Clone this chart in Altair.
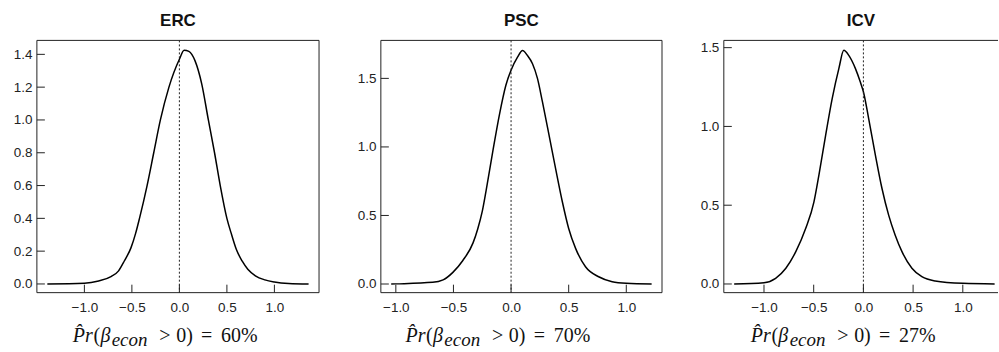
import altair as alt
import pandas as pd

titles = ["ERC", "PSC", "ICV"]
probs = ["60%", "70%", "27%"]

erc_x = [-1.39, -1.0, -0.85, -0.72, -0.64, -0.58, -0.51, -0.46, -0.42, -0.34, -0.27, -0.20, -0.11, 0.0, 0.05, 0.10, 0.165, 0.235, 0.305, 0.37, 0.43, 0.50, 0.55, 0.60, 0.66, 0.72, 0.80, 0.90, 1.0, 1.15, 1.36]
erc_d = [0.0, 0.004, 0.018, 0.045, 0.08, 0.14, 0.22, 0.31, 0.40, 0.60, 0.80, 1.00, 1.20, 1.37, 1.425, 1.418, 1.36, 1.22, 1.00, 0.80, 0.60, 0.40, 0.30, 0.21, 0.14, 0.09, 0.05, 0.025, 0.012, 0.003, 0.0]

psc_x = [-1.04, -1.0, -0.68, -0.59, -0.505, -0.42, -0.33, -0.29, -0.25, -0.217, -0.16, -0.10, -0.045, 0.0, 0.056, 0.10, 0.142, 0.186, 0.229, 0.272, 0.33, 0.387, 0.445, 0.50, 0.56, 0.646, 0.76, 0.877, 1.0, 1.22]
psc_d = [0.0, 0.001, 0.012, 0.03, 0.085, 0.17, 0.30, 0.40, 0.53, 0.68, 0.96, 1.24, 1.45, 1.56, 1.655, 1.704, 1.667, 1.607, 1.50, 1.33, 1.085, 0.84, 0.60, 0.405, 0.26, 0.126, 0.053, 0.017, 0.005, 0.0]

icv_x = [-1.30, -1.0, -0.883, -0.78, -0.68, -0.58, -0.498, -0.448, -0.38, -0.314, -0.247, -0.197, -0.147, -0.08, -0.03, 0.0, 0.053, 0.12, 0.187, 0.254, 0.32, 0.388, 0.488, 0.588, 0.722, 1.0, 1.32]
icv_d = [0.0, 0.008, 0.036, 0.10, 0.205, 0.353, 0.52, 0.69, 0.944, 1.177, 1.367, 1.483, 1.451, 1.367, 1.28, 1.22, 1.05, 0.82, 0.606, 0.437, 0.31, 0.205, 0.10, 0.046, 0.019, 0.004, 0.0]

curves = [(erc_x, erc_d), (psc_x, psc_d), (icv_x, icv_d)]

x_ticks = [-1.0, -0.5, 0.0, 0.5, 1.0]
y_ticks = [[0.0, 0.2, 0.4, 0.6, 0.8, 1.0, 1.2, 1.4], [0.0, 0.5, 1.0, 1.5], [0.0, 0.5, 1.0, 1.5]]
x_domains = [[-1.50, 1.47], [-1.13, 1.31], [-1.404, 1.354]]
y_domains = [[-0.053, 1.485], [-0.063, 1.777], [-0.055, 1.546]]

# layout constants
widths = [283, 282, 275]
H = 253
extents = [37, 41, 41]
right_frame = [True, True, False]
formula_start = [36, 24.7, 27]

INK = "#222222"
SANS = "Liberation Sans"
SERIF = "Liberation Serif"
one = pd.DataFrame({"a": [0]})


def panel(i):
    W = widths[i]
    xs, ds = curves[i]
    xsc = alt.Scale(domain=x_domains[i], nice=False, zero=False)
    ysc = alt.Scale(domain=y_domains[i], nice=False, zero=False)
    xa = alt.Axis(values=x_ticks, format=".1f", domain=False, ticks=False, tickSize=0, title=None,
                  grid=False, labelFont=SANS, labelFontSize=13.5, labelColor=INK, labelPadding=8)
    ya = alt.Axis(values=y_ticks[i], format=".1f", domain=False, ticks=False, tickSize=0, title=None,
                  grid=False, labelFont=SANS, labelFontSize=13.5, labelColor=INK, labelPadding=5,
                  minExtent=extents[i], maxExtent=extents[i])
    df = pd.DataFrame({"x": xs, "d": ds})

    line = alt.Chart(df).mark_line(color="black", strokeWidth=1.5, interpolate="monotone").encode(
        x=alt.X("x:Q", scale=xsc, axis=xa, title=None),
        y=alt.Y("d:Q", scale=ysc, axis=ya, title=None),
    )

    xt = alt.Chart(pd.DataFrame({"x": x_ticks})).mark_rule(color=INK, strokeWidth=1).encode(
        x=alt.X("x:Q", scale=xsc, axis=xa, title=None), y=alt.value(H), y2=alt.value(H - 8))
    yt = alt.Chart(pd.DataFrame({"d": y_ticks[i]})).mark_rule(color=INK, strokeWidth=1).encode(
        y=alt.Y("d:Q", scale=ysc, axis=ya, title=None), x=alt.value(0), x2=alt.value(8))
    zero = alt.Chart(pd.DataFrame({"x": [0.0]})).mark_rule(color=INK, strokeWidth=1, strokeDash=[2, 2]).encode(
        x=alt.X("x:Q", scale=xsc, axis=xa, title=None))

    frame = [
        alt.Chart(one).mark_rule(color=INK, strokeWidth=1).encode(x=alt.value(0)),
        alt.Chart(one).mark_rule(color=INK, strokeWidth=1).encode(y=alt.value(0)),
        alt.Chart(one).mark_rule(color=INK, strokeWidth=1).encode(y=alt.value(H)),
    ]
    if right_frame[i]:
        frame.append(alt.Chart(one).mark_rule(color=INK, strokeWidth=1).encode(x=alt.value(W)))

    x0 = formula_start[i]
    base_y = 303
    pieces = [
        ("P\u0302r", 0, 20, "italic", base_y),
        ("(", 20.7, 20, "normal", base_y),
        ("\u03b2", 27.7, 20, "italic", base_y),
        ("econ", 39, 19, "italic", base_y + 4),
        (">", 86.7, 20, "normal", base_y),
        ("0)", 103.7, 20, "normal", base_y),
        ("=", 128.7, 20, "normal", base_y),
        (probs[i], 148.7, 20, "normal", base_y),
    ]
    texts = []
    for s, off, fs, st, yy in pieces:
        texts.append(
            alt.Chart(pd.DataFrame({"s": [s]})).mark_text(
                align="left", baseline="alphabetic", font=SERIF, fontSize=fs, fontStyle=st, color="#111111"
            ).encode(text="s:N", x=alt.value(x0 + off), y=alt.value(yy))
        )

    return alt.layer(line, zero, xt, yt, *frame, *texts).properties(
        width=W, height=H,
        title=alt.TitleParams(text=titles[i], font=SANS, fontSize=17, fontWeight="bold",
                              color="#111111", anchor="middle", offset=10),
    )


chart = alt.hconcat(panel(0), panel(1), panel(2), spacing=20).properties(
    padding={"left": 0, "top": 11, "right": 0, "bottom": 0}
).configure_view(stroke=None)

chart.save("out.html", embed_options={"renderer": "svg", "actions": False})
